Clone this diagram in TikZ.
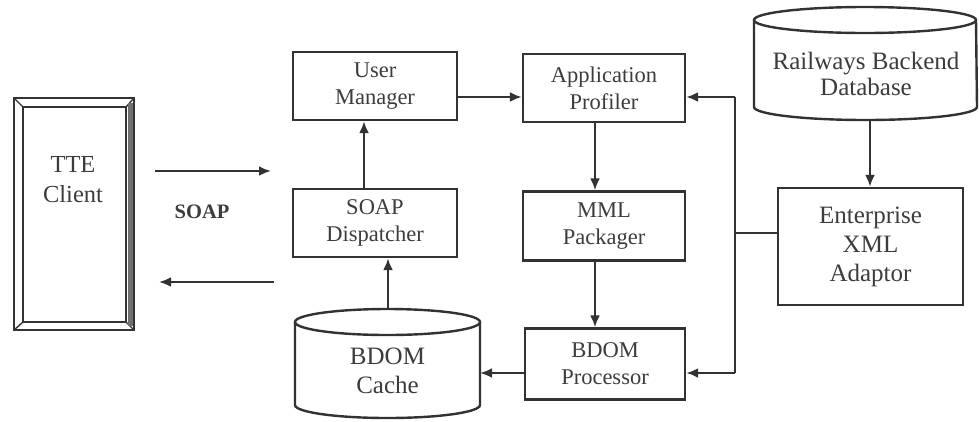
\documentclass[tikz,border=0pt]{standalone}
\usepackage{fontspec}
\setmainfont{Liberation Serif}
\usetikzlibrary{arrows.meta}
\definecolor{linec}{RGB}{50,50,50}
\definecolor{textc}{RGB}{60,60,60}
\tikzset{
  ln/.style={draw=linec, line width=2.4pt},
  arr/.style={ln, -{Latex[length=12pt,width=10pt]}},
  box/.style={ln, rectangle, inner sep=0pt, align=center, text=textc, font=\fontsize{22.5}{27}\selectfont},
  bigtxt/.style={align=center, text=textc, inner sep=0pt, font=\fontsize{25}{29}\selectfont},
}
\begin{document}
\begin{tikzpicture}[x=1pt,y=-1pt]
\useasboundingbox (0,0) rectangle (979,421);
% TTE client frame
\draw[ln] (14,98) rectangle (134,330);
\draw[ln] (23,107) rectangle (126,322);
\draw[ln, line width=1.4pt] (14,98) -- (23,107) (134,98) -- (126,107) (14,330) -- (23,322) (134,330) -- (126,322);
\draw[draw=linec!70, line width=5pt] (130,103) -- (130,326);
\draw[ln] (134,98) -- (134,330);
\node[bigtxt, font=\fontsize{24.5}{30}\selectfont] (tte) at (73,180) {TTE\\Client};
% SOAP arrows
\coordinate (ca) at (155,171);
\coordinate (cb) at (271,171);
\coordinate (cc) at (274,282);
\coordinate (cd) at (159,282);
\draw[arr] (ca) -- (cb);
\draw[arr] (cc) -- (cd);
\node[text=textc, inner sep=0pt, font=\bfseries\fontsize{20.5}{24}\selectfont] (soap) at (202,212) {SOAP};
% boxes
\node[box, minimum width=164, minimum height=68] (um) at (375,86) {User\\Manager};
\node[box, minimum width=164, minimum height=68] (sd) at (375,223) {SOAP\\Dispatcher};
\node[box, minimum width=162, minimum height=68] (ap) at (604,88) {Application\\Profiler};
\node[box, minimum width=162, minimum height=69] (mml) at (604,226) {MML\\Packager};
\node[box, minimum width=160, minimum height=71] (bp) at (605,364) {BDOM\\Processor};
\node[box, bigtxt, draw=linec, line width=2.4pt, minimum width=185, minimum height=117] (ea) at (870.5,246.5) {Enterprise\\XML\\Adaptor};
% BDOM cache cylinder
\draw[ln, fill=white] (295,322) -- (295,405) arc[start angle=180, end angle=360, x radius=92.5pt, y radius=13pt] -- (480,322);
\draw[ln] (387.5,322) ellipse [x radius=92.5pt, y radius=13pt];
\node[bigtxt, font=\fontsize{25}{29}\selectfont] (cache) at (387.5,371) {BDOM\\Cache};
\coordinate (cachetop) at (388,309);
\coordinate (cacheright) at (480,373);
% Railways DB cylinder
\draw[ln, fill=white] (754,20) -- (754,107) arc[start angle=180, end angle=360, x radius=111.5pt, y radius=13pt] -- (976,20);
\draw[ln] (865,20) ellipse [x radius=111pt, y radius=13pt];
\node[bigtxt, font=\fontsize{25}{26}\selectfont] (db) at (866,74) {Railways Backend\\Database};
\coordinate (dbbottom) at (870,120);
% connectors
\draw[arr] ([yshift=-11pt]um.east) -- ([yshift=-9pt]ap.west);
\draw[arr] ([xshift=-11pt]sd.north) -- ([xshift=-11pt]um.south);
\draw[arr] (cachetop) -- (cachetop |- sd.south);
\draw[arr] ([xshift=-9pt]ap.south) -- ([xshift=-9pt]mml.north);
\draw[arr] ([xshift=-9pt]mml.south) -- ([xshift=-10pt]bp.north);
\draw[arr] (bp.west |- cacheright) -- (cacheright);
\draw[arr] (dbbottom) -- (dbbottom |- ea.north);
\coordinate (jn) at (735,233);
\coordinate (jt) at (735,97);
\coordinate (jb) at (735,373);
\draw[ln] (jn) -- (ea.west |- jn);
\draw[ln] (jt) -- (jb);
\draw[arr] (jt) -- (ap.east |- jt);
\draw[arr] (jb) -- (bp.east |- jb);
\end{tikzpicture}
\end{document}
